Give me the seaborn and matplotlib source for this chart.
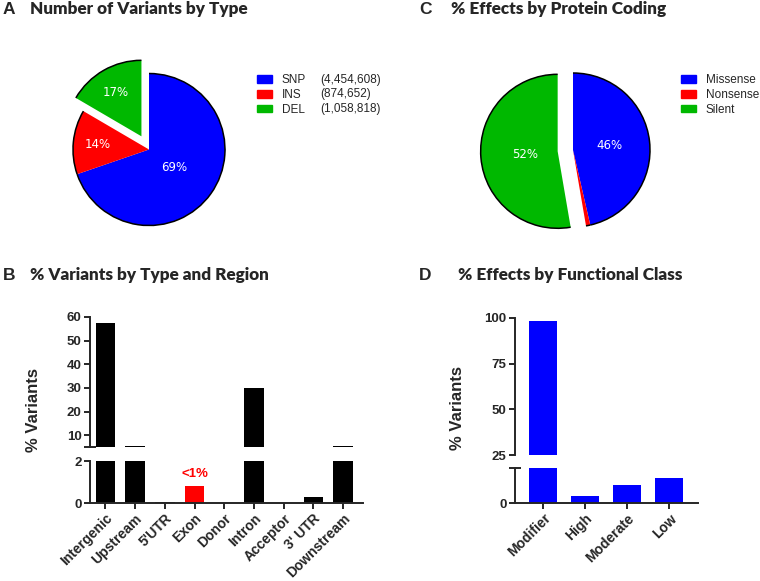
import numpy as np
import matplotlib.pyplot as plt
import pandas as pd
import seaborn as sns
from matplotlib.patches import Arc, Patch

# values
variant_types = ["SNP", "INS", "DEL"]
variant_counts = [4454608, 874652, 1058818]
variant_labels = ["69%", "14%", "17%"]

coding_effects = ["Missense", "Nonsense", "Silent"]
coding_pct = [46.4, 0.9, 52.7]
coding_labels = ["46%", None, "52%"]

regions = ["Intergenic", "Upstream", "5'UTR", "Exon", "Donor",
           "Intron", "Acceptor", "3' UTR", "Downstream"]
region_pct = [57.5, 5.4, 0.05, 0.8, 0.01, 30.0, 0.01, 0.27, 5.4]

func_classes = ["Modifier", "High", "Moderate", "Low"]
func_pct = [98.5, 3.5, 9.5, 13.0]

BLUE, RED, GREEN = "#0000FF", "#FF0000", "#00B800"

sns.set_style("ticks")
plt.rcParams["font.family"] = ["Liberation Sans", "DejaVu Sans"]
plt.rcParams["font.weight"] = "bold"

W, H = 760, 581
fig = plt.figure(figsize=(W / 100, H / 100), dpi=100)


def px_axes(x0, y0, x1, y1):
    # axes box given in pixels measured from the top-left corner
    return fig.add_axes([x0 / W, 1 - y1 / H, (x1 - x0) / W, (y1 - y0) / H])


def draw_pie(cx, cy, r, vals, colors, explode, labels, lab_dist, lim=1.45):
    ax = px_axes(cx - r * lim, cy - r * lim, cx + r * lim, cy + r * lim)
    wedges, _ = ax.pie(vals, colors=colors, explode=explode, startangle=90,
                       counterclock=False, wedgeprops=dict(linewidth=0))
    for w, lab, d in zip(wedges, labels, lab_dist):
        ax.add_patch(Arc(w.center, 2 * w.r, 2 * w.r, theta1=w.theta1,
                         theta2=w.theta2, color="black", lw=1.1))
        if lab is None:
            continue
        ang = np.deg2rad((w.theta1 + w.theta2) / 2)
        ax.text(w.center[0] + d * np.cos(ang), w.center[1] + d * np.sin(ang),
                lab, color="white", ha="center", va="center",
                fontsize=8.5, family="DejaVu Sans", fontweight="normal")
    ax.set_xlim(-lim, lim)
    ax.set_ylim(-lim, lim)
    ax.set_aspect("equal")
    ax.axis("off")


def legend(colors, labels, x, y):
    handles = [Patch(color=c) for c in colors]
    fig.legend(handles, labels, loc="upper left", bbox_to_anchor=(x / W, 1 - y / H),
               frameon=False, prop={"size": 8.5, "weight": "normal"},
               handlelength=1.3, handleheight=0.6, handletextpad=0.8,
               labelspacing=0.25, borderpad=0, borderaxespad=0)


def style_axis(ax, ticks, labels, minor):
    ax.set_yticks(ticks)
    ax.set_yticklabels(labels)
    ax.set_yticks(minor, minor=True)
    ax.tick_params(axis="y", which="major", direction="out", length=4.5, width=1.4,
                   labelsize=9.5, pad=1.5)
    ax.tick_params(axis="y", which="minor", direction="inout", length=9, width=1.4)
    ax.set_xlabel("")
    ax.set_ylabel("")
    for s in ("top", "right"):
        ax.spines[s].set_visible(False)
    ax.spines["left"].set_linewidth(1.4)
    ax.spines["bottom"].set_linewidth(1.4)


def broken_bars(box_hi, box_lo, cats, vals, palette, width, xlim,
                lim_hi, ticks_hi, lim_lo, ticks_lo, ticklabels_lo, minor_lo):
    df = pd.DataFrame({"cat": cats, "val": vals})
    ax_hi = px_axes(*box_hi)
    ax_lo = px_axes(*box_lo)
    for ax in (ax_hi, ax_lo):
        sns.barplot(data=df, x="cat", y="val", hue="cat", palette=palette,
                    width=width, saturation=1, linewidth=0, legend=False, ax=ax)
        ax.set_xlim(*xlim)
    ax_hi.set_ylim(*lim_hi)
    style_axis(ax_hi, ticks_hi, [str(t) for t in ticks_hi], [lim_hi[0]])
    ax_hi.spines["bottom"].set_visible(False)
    ax_hi.set_xticks([])
    ax_lo.set_ylim(*lim_lo)
    style_axis(ax_lo, ticks_lo, ticklabels_lo, minor_lo)
    ax_lo.tick_params(axis="x", direction="out", length=4.5, width=1.4, pad=1.5)
    ax_lo.set_xticks(range(len(cats)))
    ax_lo.set_xticklabels(cats, rotation=45, ha="right", va="top",
                          rotation_mode="anchor", fontsize=10)
    return ax_hi, ax_lo


# ---- A: variant types pie
draw_pie(149, 149.5, 76, variant_counts, [BLUE, RED, GREEN], [0, 0, 0.2],
         variant_labels, [0.4, 0.68, 0.67])
legend([BLUE, RED, GREEN], variant_types, 257, 74)
for i, n in enumerate(variant_counts):
    fig.text(320 / W, 1 - (80 + 14.5 * i) / H, f"({n:,})", fontsize=8.5,
             fontweight="normal", va="center")

# ---- C: protein coding pie
draw_pie(573, 150, 77, coding_pct, [BLUE, RED, GREEN], [0, 0, 0.2],
         coding_labels, [0.48, None, 0.42])
legend([BLUE, RED, GREEN], coding_effects, 681, 74)

# ---- B: variants by region (broken axis)
pal_b = {r: (RED if r == "Exon" else "black") for r in regions}
_, ax_b = broken_bars((90, 317, 363, 447), (90, 461, 363, 503), regions, region_pct,
                      pal_b, 0.66, (-0.52, 8.67), (5, 60), [10, 20, 30, 40, 50, 60],
                      (0, 2), [0, 2], ["0", "2"], [2])
ix = regions.index("Exon")
ax_b.text(ix, region_pct[ix] + 0.3, "<1%", color=RED, ha="center", va="bottom",
          fontsize=9.5, fontweight="bold")

# ---- D: functional class (broken axis)
pal_d = {c: BLUE for c in func_classes}
broken_bars((515, 318, 698, 455), (515, 468, 698, 503), func_classes, func_pct,
            pal_d, 0.67, (-0.67, 3.68), (25, 100), [25, 50, 75, 100],
            (0, 18), [0], ["0"], [18])

# y labels
fig.text(33 / W, 1 - 410 / H, "% Variants", rotation=90, ha="center", va="center",
         fontsize=12)
fig.text(458 / W, 1 - 408 / H, "% Variants", rotation=90, ha="center", va="center",
         fontsize=12)

# panel titles
for x_let, x_txt, y, let, title in [
        (3, 30, 9, "A", "Number of Variants by Type"),
        (419, 451, 9, "C", "% Effects by Protein Coding"),
        (3, 30, 275, "B", "% Variants by Type and Region"),
        (419, 458, 275, "D", "% Effects by Functional Class")]:
    fig.text(x_let / W, 1 - y / H, let, fontsize=12.5, va="center")
    fig.text(x_txt / W, 1 - y / H, title, fontsize=12.3, va="center",
             family="Lato", fontweight="heavy")

fig.savefig("out.png", dpi=100)
